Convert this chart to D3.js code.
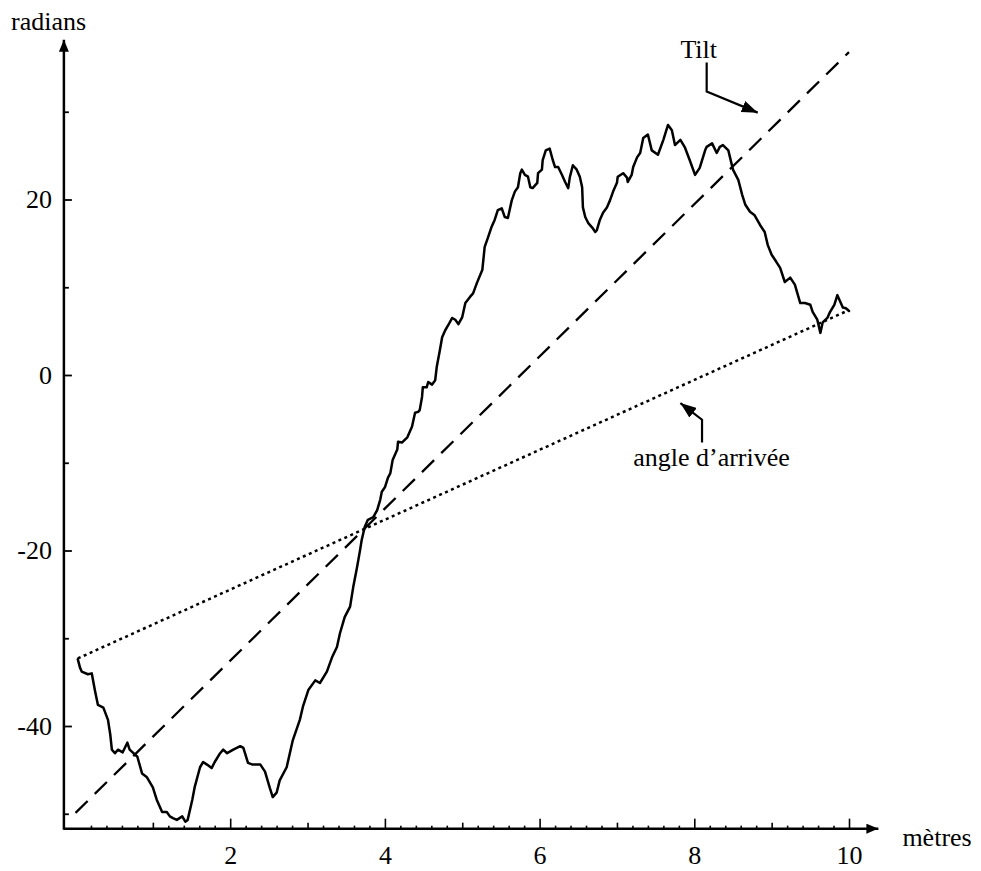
<!DOCTYPE html>
<html>
<head>
<meta charset="utf-8">
<script src="https://cdn.jsdelivr.net/npm/d3@7"></script>
<style>
  html, body { margin: 0; padding: 0; background: #fff; }
  svg { display: block; }
  text { font-family: "Liberation Serif", "Times New Roman", serif; fill: #000; }
</style>
</head>
<body>
<svg id="chart" width="981" height="871"></svg>
<script>
// ---------- data ----------
const measX = [0.03,0.06,0.08,0.16,0.21,0.25,0.29,0.36,0.42,0.45,0.47,0.51,0.55,0.61,0.67,0.70,0.80,0.86,0.92,1.00,
  1.05,1.12,1.18,1.22,1.26,1.31,1.38,1.42,1.45,1.51,1.54,1.61,1.65,1.70,1.76,1.80,1.87,1.91,1.96,2.04,
  2.13,2.17,2.23,2.29,2.39,2.45,2.51,2.55,2.60,2.64,2.73,2.81,2.90,2.94,3.01,3.10,3.16,3.25,3.32,3.38,
  3.42,3.48,3.55,3.59,3.64,3.68,3.70,3.74,3.78,3.85,3.90,3.94,3.96,4.00,4.04,4.07,4.10,4.16,4.17,4.22,
  4.29,4.32,4.35,4.39,4.43,4.45,4.48,4.49,4.54,4.56,4.61,4.65,4.67,4.71,4.74,4.78,4.82,4.87,4.91,4.95,
  5.00,5.04,5.10,5.14,5.19,5.26,5.29,5.33,5.38,5.42,5.46,5.51,5.55,5.59,5.64,5.68,5.72,5.75,5.77,5.81,
  5.85,5.88,5.91,5.97,5.98,6.03,6.04,6.08,6.13,6.17,6.20,6.24,6.29,6.33,6.37,6.39,6.43,6.48,6.52,6.55,
  6.56,6.59,6.63,6.68,6.72,6.74,6.78,6.82,6.87,6.91,6.95,7.00,7.01,7.08,7.13,7.14,7.19,7.21,7.26,7.30,
  7.34,7.40,7.45,7.53,7.60,7.66,7.71,7.75,7.82,7.88,7.94,8.01,8.07,8.14,8.16,8.23,8.29,8.33,8.37,8.44,
  8.50,8.57,8.62,8.66,8.72,8.78,8.85,8.91,8.95,9.00,9.06,9.11,9.17,9.24,9.30,9.37,9.43,9.50,9.53,9.59,
  9.63,9.66,9.72,9.75,9.81,9.85,9.88,9.92,9.96,10.00];
const measY = [-32.4,-33.4,-33.8,-34.1,-34.0,-35.9,-37.6,-37.9,-39.3,-41.0,-42.7,-43.1,-42.7,-43.0,-41.9,-42.7,-43.5,-45.4,-45.8,-47.0,
  -48.4,-49.8,-49.8,-50.3,-50.5,-50.7,-50.3,-50.9,-50.7,-48.4,-47.0,-44.7,-44.1,-44.4,-44.8,-44.1,-43.1,-42.7,-43.1,-42.7,
  -42.3,-42.5,-44.2,-44.4,-44.4,-45.2,-47.0,-48.1,-47.6,-46.2,-44.7,-41.6,-39.3,-37.8,-35.9,-34.8,-35.1,-33.8,-32.1,-31.0,
  -29.4,-27.6,-26.4,-24.2,-21.9,-19.9,-18.8,-17.3,-16.5,-16.2,-15.4,-14.2,-13.3,-12.8,-11.7,-11.2,-9.7,-8.5,-7.6,-7.7,
  -7.1,-6.5,-5.9,-4.3,-4.2,-4.0,-2.5,-1.4,-1.4,-0.8,-1.1,-0.6,0.9,2.8,4.3,5.1,5.7,6.5,6.3,5.8,
  6.6,8.2,8.9,9.3,10.5,12.0,14.6,15.6,16.9,17.7,18.8,19.0,18.0,17.9,19.9,20.9,21.4,23.0,23.4,22.8,
  22.6,21.4,21.3,21.9,23.0,23.4,24.5,25.6,25.8,24.5,23.7,23.7,22.8,22.0,21.3,22.5,23.9,23.4,22.6,21.4,
  19.1,18.0,17.3,16.8,16.3,16.5,17.7,18.5,19.1,19.9,20.9,21.9,22.6,23.0,22.5,22.0,22.8,23.7,24.8,25.3,
  27.0,27.4,25.6,25.1,26.8,28.5,27.9,26.2,26.8,25.9,24.5,22.8,23.6,25.6,26.0,26.4,25.3,26.0,26.2,25.6,
  23.4,22.2,20.5,19.4,18.6,18.2,17.1,16.3,14.8,13.7,12.9,12.2,10.6,11.1,10.3,8.2,8.2,8.0,7.2,6.3,
  4.8,6.0,6.5,7.1,8.0,9.1,8.5,7.7,7.6,7.3];

const tiltX = [0, 10];
const tiltY = [-49.9, 36.8];
const arrivalX = [0.03, 10];
const arrivalY = [-32.3, 7.4];

const xMajorTicks = [2, 4, 6, 8, 10];
const xMajorLabels = ["2", "4", "6", "8", "10"];
const yMajorTicks = [-40, -20, 0, 20];
const yMajorLabels = ["-40", "-20", "0", "20"];
const yMinorTicks = [-50, -30, -10, 10, 30];

const xTitle = "mètres";
const yTitle = "radians";
const tiltLabel = "Tilt";
const arrivalLabel = "angle d’arrivée";

// ---------- layout ----------
const svg = d3.select("#chart");
const FONT = 26;
const x = d3.scaleLinear().domain([0, 10]).range([75.5, 849]);
const y = d3.scaleLinear().domain([0, 20]).range([375, 199.5]);
const xMin = -0.15, yMin = -51.7, xMax = 10.38, yMax = 38.2;
const axisY = y(yMin), axisX = x(xMin);

// arrow markers
const defs = svg.append("defs");
defs.append("marker").attr("id", "axArrow").attr("viewBox", "0 0 12 10")
  .attr("refX", 12).attr("refY", 5).attr("markerWidth", 12).attr("markerHeight", 10)
  .attr("markerUnits", "userSpaceOnUse").attr("orient", "auto")
  .append("path").attr("d", "M0,0 L12,5 L0,10 Z").attr("fill", "#000");
defs.append("marker").attr("id", "annArrow").attr("viewBox", "0 0 16 12")
  .attr("refX", 16).attr("refY", 6).attr("markerWidth", 16).attr("markerHeight", 12)
  .attr("markerUnits", "userSpaceOnUse").attr("orient", "auto")
  .append("path").attr("d", "M0,0 L16,6 L0,12 Z").attr("fill", "#000");

// x axis ticks (inside, upward)
const xMinor = d3.range(0, 10.001, 0.2).map(v => +v.toFixed(1)).filter(v => Math.abs(v - Math.round(v)) > 1e-6);
const xOdd = [1, 3, 5, 7, 9];
function tickAxis(gen) {
  return svg.append("g").attr("transform", `translate(0,${axisY})`).call(gen)
    .call(g => g.select(".domain").remove())
    .call(g => g.selectAll("line").attr("stroke", "#000").attr("stroke-width", 1.6));
}
tickAxis(d3.axisBottom(x).tickValues(xMinor).tickSize(-3).tickFormat(""));
tickAxis(d3.axisBottom(x).tickValues(xOdd).tickSize(-6).tickFormat(""));
const gx = tickAxis(d3.axisBottom(x).tickValues(xMajorTicks).tickSize(-10).tickPadding(16.5)
  .tickFormat((d, i) => xMajorLabels[i]));
gx.selectAll("text").style("font-size", FONT + "px").attr("fill", "#000");
gx.attr("font-family", null).attr("font-size", null);

// y axis ticks (inside, rightward)
function tickAxisY(gen) {
  return svg.append("g").attr("transform", `translate(${axisX},0)`).call(gen)
    .call(g => g.select(".domain").remove())
    .call(g => g.selectAll("line").attr("stroke", "#000").attr("stroke-width", 1.8));
}
tickAxisY(d3.axisLeft(y).tickValues(yMinorTicks).tickSize(-5).tickFormat(""));
const gy = tickAxisY(d3.axisLeft(y).tickValues(yMajorTicks).tickSize(-8).tickPadding(12)
  .tickFormat((d, i) => yMajorLabels[i]));
gy.selectAll("text").style("font-size", FONT + "px").attr("fill", "#000");
gy.attr("font-family", null).attr("font-size", null);

// axis lines with arrowheads
svg.append("line").attr("x1", axisX).attr("x2", x(xMax)).attr("y1", axisY).attr("y2", axisY)
  .attr("stroke", "#000").attr("stroke-width", 2.5).attr("marker-end", "url(#axArrow)");
svg.append("line").attr("x1", axisX).attr("x2", axisX).attr("y1", axisY + 1.2).attr("y2", y(yMax))
  .attr("stroke", "#000").attr("stroke-width", 2.5).attr("marker-end", "url(#axArrow)");

// axis titles
svg.append("text").attr("x", x(xMax) + 24).attr("y", axisY + 17).style("font-size", FONT + "px").text(xTitle);
svg.append("text").attr("x", 11).attr("y", 30).style("font-size", FONT + "px").text(yTitle);

// lines
const line = d3.line().x(d => x(d[0])).y(d => y(d[1]));
svg.append("path").datum(d3.zip(tiltX, tiltY)).attr("d", line)
  .attr("fill", "none").attr("stroke", "#000").attr("stroke-width", 2.3).attr("stroke-dasharray", "17,10");
svg.append("path").datum(d3.zip(arrivalX, arrivalY)).attr("d", line)
  .attr("fill", "none").attr("stroke", "#000").attr("stroke-width", 2.5).attr("stroke-dasharray", "3,3.5");
svg.append("path").datum(d3.zip(measX, measY)).attr("d", line)
  .attr("fill", "none").attr("stroke", "#000").attr("stroke-width", 2.5)
  .attr("stroke-linejoin", "round").attr("stroke-linecap", "round");

// annotations (in data units)
const tiltArrowPts = [[8.16, 35.6], [8.16, 32.3], [8.82, 29.9]];
const arrivalArrowPts = [[8.10, -7.7], [8.10, -5.1], [7.82, -3.2]];
[tiltArrowPts, arrivalArrowPts].forEach(pts => {
  svg.append("path").datum(pts).attr("d", line).attr("fill", "none")
    .attr("stroke", "#000").attr("stroke-width", 2.2).attr("marker-end", "url(#annArrow)");
});
svg.append("text").attr("x", x(7.82)).attr("y", y(36.1)).style("font-size", FONT + "px").text(tiltLabel);
svg.append("text").attr("x", x(7.21)).attr("y", y(-10.4)).style("font-size", FONT + "px").text(arrivalLabel);
</script>
</body>
</html>
